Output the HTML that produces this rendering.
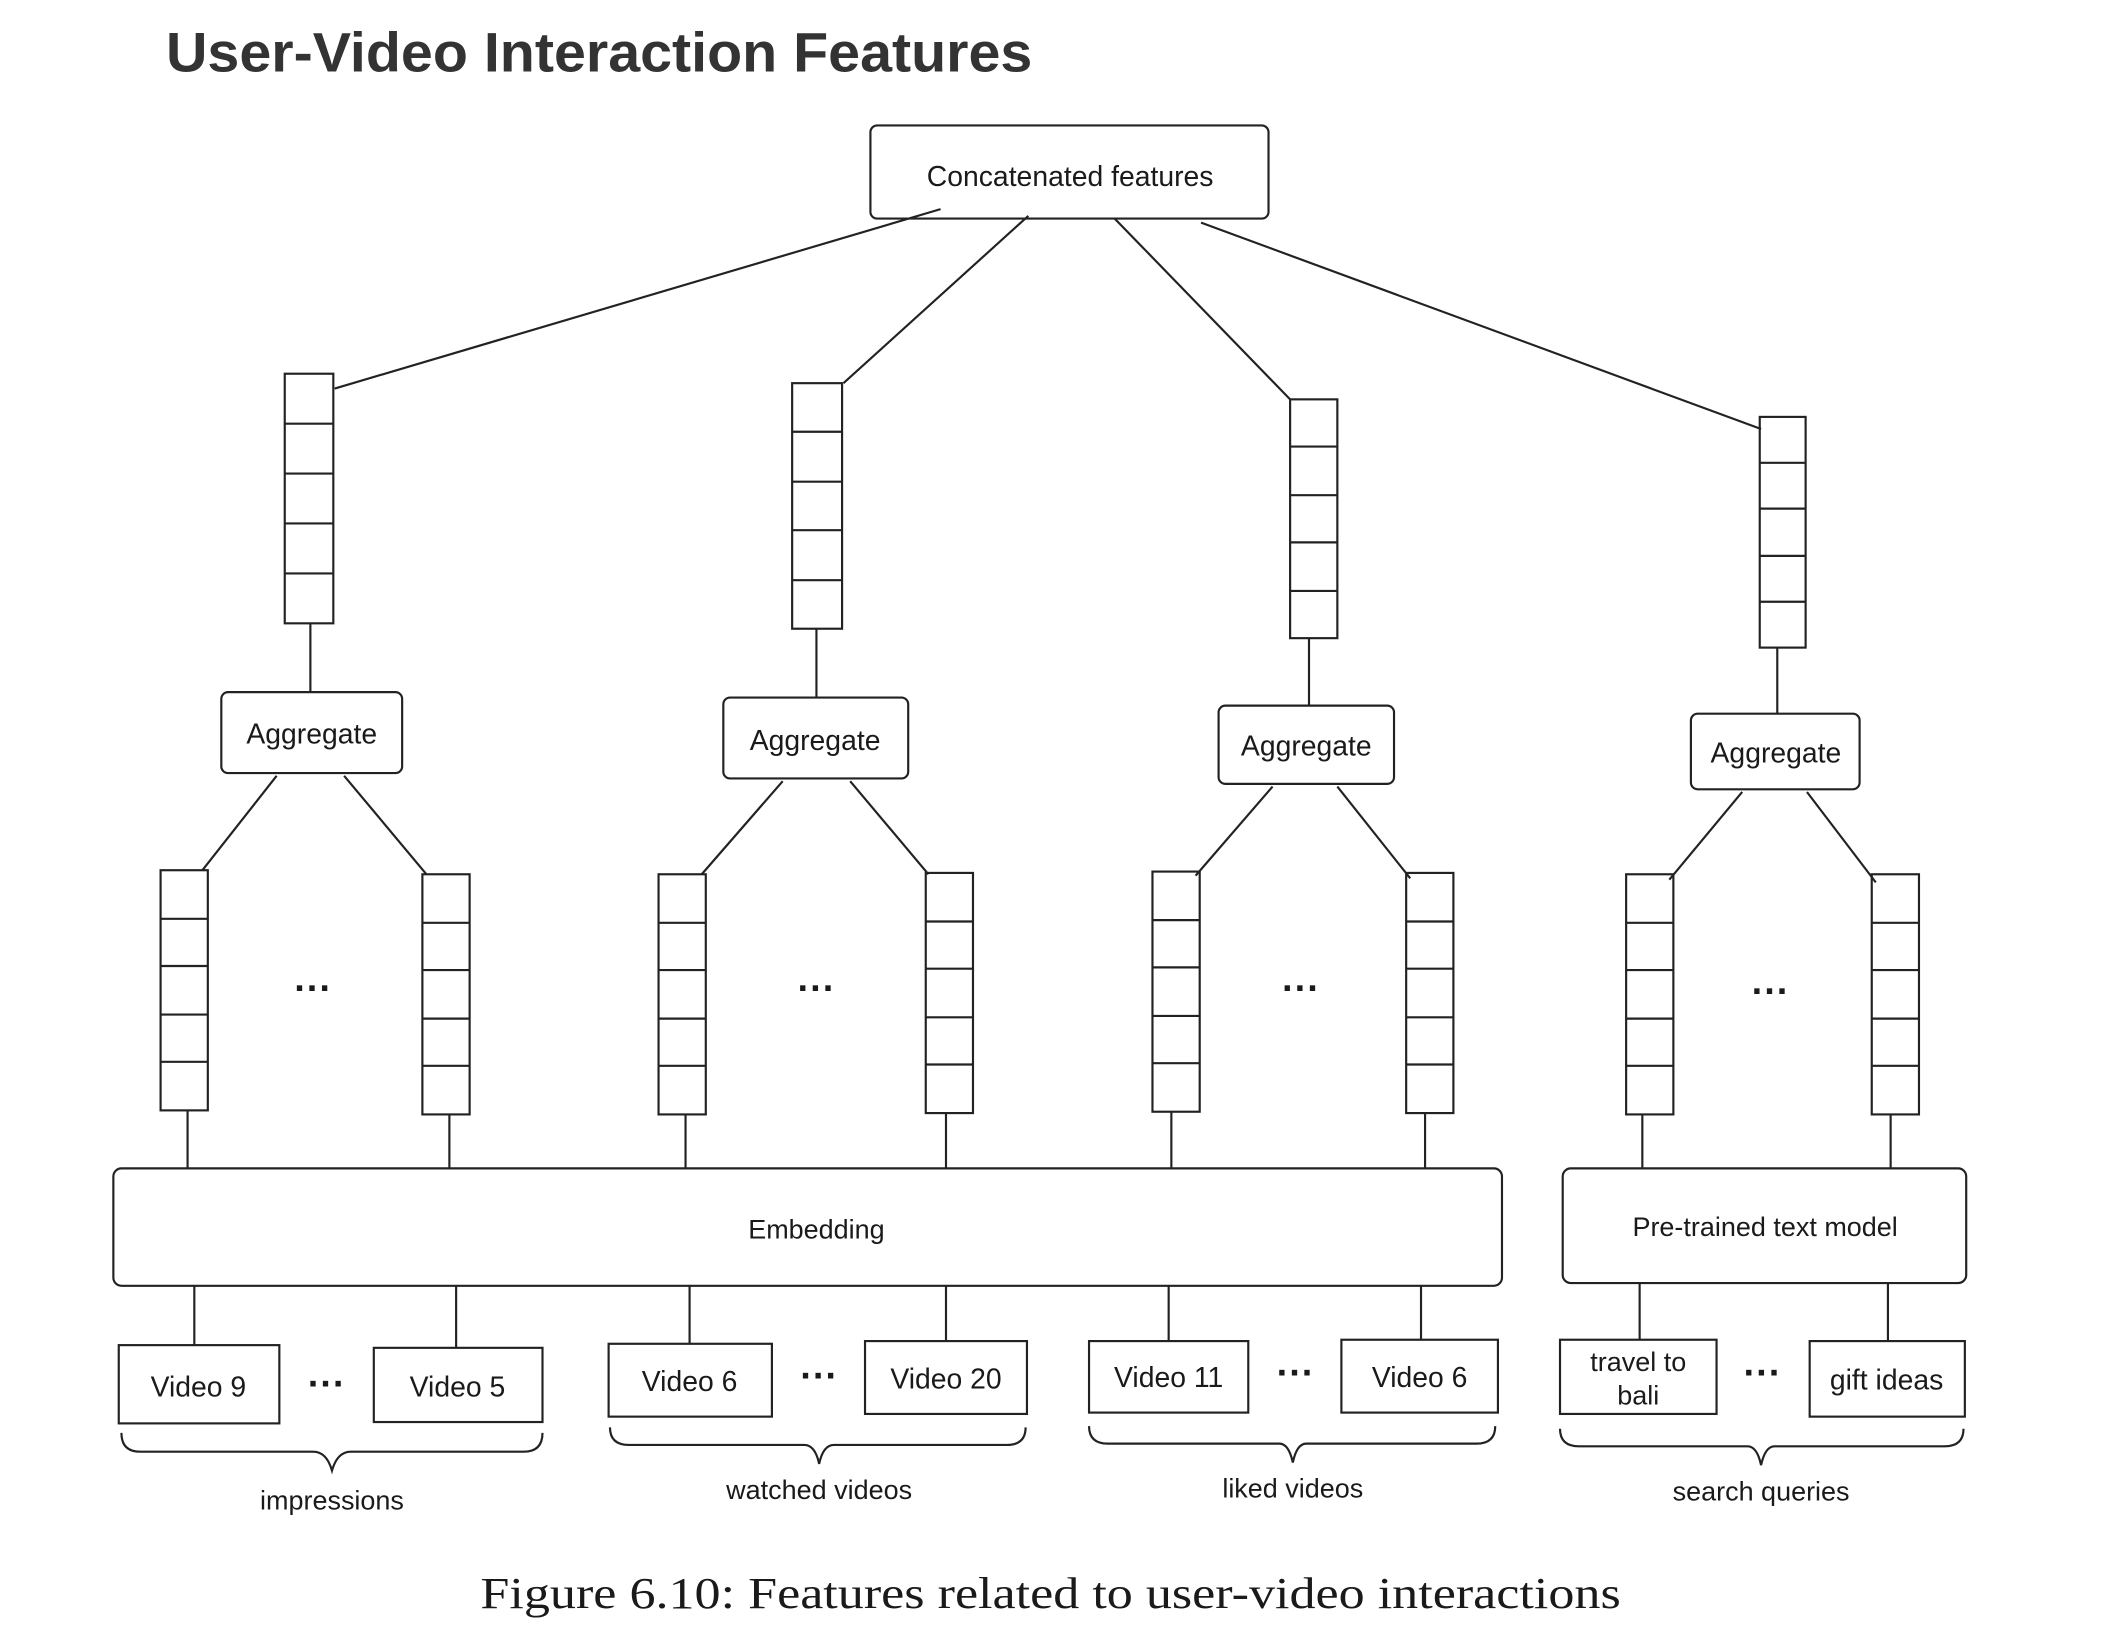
<!DOCTYPE html>
<html><head><meta charset="utf-8"><style>
html,body{margin:0;padding:0;background:#fff;}
svg{display:block}
text{font-family:"Liberation Sans",sans-serif;fill:#1a1a1a}
</style></head><body>
<svg width="2116" height="1646" viewBox="0 0 1568 1220" preserveAspectRatio="none" xmlns="http://www.w3.org/2000/svg">
<text x="123" y="53" font-size="41" font-weight="bold" textLength="642" lengthAdjust="spacingAndGlyphs" style="fill:#333">User-Video Interaction Features</text>
<g stroke="#222" stroke-width="1.6" fill="none">
<rect x="645" y="93" width="295" height="69" rx="5"/>
<line x1="697" y1="155" x2="248" y2="288"/>
<line x1="762" y1="160" x2="625" y2="284"/>
<line x1="826" y1="162" x2="956" y2="296"/>
<line x1="890" y1="165" x2="1305" y2="318"/>
<rect x="211" y="277" width="36" height="185"/>
<line x1="211" y1="314" x2="247" y2="314"/><line x1="211" y1="351" x2="247" y2="351"/><line x1="211" y1="388" x2="247" y2="388"/><line x1="211" y1="425" x2="247" y2="425"/>
<rect x="587" y="284" width="37" height="182"/>
<line x1="587" y1="320" x2="624" y2="320"/><line x1="587" y1="357" x2="624" y2="357"/><line x1="587" y1="393" x2="624" y2="393"/><line x1="587" y1="430" x2="624" y2="430"/>
<rect x="956" y="296" width="35" height="177"/>
<line x1="956" y1="331" x2="991" y2="331"/><line x1="956" y1="367" x2="991" y2="367"/><line x1="956" y1="402" x2="991" y2="402"/><line x1="956" y1="438" x2="991" y2="438"/>
<rect x="1304" y="309" width="34" height="171"/>
<line x1="1304" y1="343" x2="1338" y2="343"/><line x1="1304" y1="377" x2="1338" y2="377"/><line x1="1304" y1="412" x2="1338" y2="412"/><line x1="1304" y1="446" x2="1338" y2="446"/>
<line x1="230" y1="462" x2="230" y2="513"/><line x1="605" y1="466" x2="605" y2="517"/><line x1="970" y1="473" x2="970" y2="523"/><line x1="1317" y1="480" x2="1317" y2="529"/>
<rect x="164" y="513" width="134" height="60" rx="5"/>
<rect x="536" y="517" width="137" height="60" rx="5"/>
<rect x="903" y="523" width="130" height="58" rx="5"/>
<rect x="1253" y="529" width="125" height="56" rx="5"/>
<line x1="205" y1="575" x2="150" y2="645"/><line x1="255" y1="575" x2="316" y2="648"/>
<line x1="580" y1="579" x2="520" y2="648"/><line x1="630" y1="579" x2="688" y2="648"/>
<line x1="943" y1="583" x2="886" y2="649"/><line x1="991" y1="583" x2="1045" y2="651"/>
<line x1="1291" y1="587" x2="1237" y2="652"/><line x1="1339" y1="587" x2="1390" y2="654"/>
<g id="sv">
<rect x="119" y="645" width="35" height="178"/>
<line x1="119" y1="681" x2="154" y2="681"/><line x1="119" y1="716" x2="154" y2="716"/><line x1="119" y1="752" x2="154" y2="752"/><line x1="119" y1="787" x2="154" y2="787"/>
</g>
<use href="#sv" x="194" y="3"/>
<use href="#sv" x="369" y="3"/>
<use href="#sv" x="567" y="2"/>
<use href="#sv" x="735" y="1"/>
<use href="#sv" x="923" y="2"/>
<use href="#sv" x="1086" y="3"/>
<use href="#sv" x="1268" y="3"/>
<line x1="139" y1="823" x2="139" y2="866"/><line x1="333" y1="826" x2="333" y2="866"/><line x1="508" y1="826" x2="508" y2="866"/><line x1="701" y1="825" x2="701" y2="866"/><line x1="868" y1="824" x2="868" y2="866"/><line x1="1056" y1="825" x2="1056" y2="866"/><line x1="1217" y1="826" x2="1217" y2="866"/><line x1="1401" y1="826" x2="1401" y2="866"/>
<rect x="84" y="866" width="1029" height="87" rx="6"/>
<rect x="1158" y="866" width="299" height="85" rx="6"/>
<line x1="144" y1="953" x2="144" y2="997"/><line x1="338" y1="953" x2="338" y2="999"/><line x1="511" y1="953" x2="511" y2="996"/><line x1="701" y1="953" x2="701" y2="994"/><line x1="866" y1="953" x2="866" y2="994"/><line x1="1053" y1="953" x2="1053" y2="993"/><line x1="1215" y1="951" x2="1215" y2="993"/><line x1="1399" y1="951" x2="1399" y2="994"/>
<rect x="88" y="997" width="119" height="58"/>
<rect x="277" y="999" width="125" height="55"/>
<rect x="451" y="996" width="121" height="54"/>
<rect x="641" y="994" width="120" height="54"/>
<rect x="807" y="994" width="118" height="53"/>
<rect x="994" y="993" width="116" height="54"/>
<rect x="1156" y="993" width="116" height="55"/>
<rect x="1341" y="994" width="115" height="56"/>
<path d="M90 1062 Q90 1076 104 1076 L232 1076 Q242 1076 246 1090 Q250 1076 260 1076 L388 1076 Q402 1076 402 1062"/>
<path d="M452 1058 Q452 1071 466 1071 L596 1071 Q604 1071 607 1085 Q610 1071 618 1071 L746 1071 Q760 1071 760 1058"/>
<path d="M807 1057 Q807 1070 821 1070 L948 1070 Q955 1070 958 1084 Q961 1070 968 1070 L1094 1070 Q1108 1070 1108 1057"/>
<path d="M1156 1059 Q1156 1072 1170 1072 L1295 1072 Q1302 1072 1305 1086 Q1308 1072 1315 1072 L1441 1072 Q1455 1072 1455 1059"/>
</g>
<g font-size="21" text-anchor="middle">
<text x="793" y="138">Concatenated features</text>
<text x="231" y="551">Aggregate</text>
<text x="604" y="556">Aggregate</text>
<text x="968" y="560">Aggregate</text>
<text x="1316" y="565">Aggregate</text>
<text x="605" y="918" font-size="20">Embedding</text>
<text x="1308" y="916" font-size="20">Pre-trained text model</text>
<text x="147" y="1035">Video 9</text>
<text x="339" y="1035">Video 5</text>
<text x="511" y="1031">Video 6</text>
<text x="701" y="1029">Video 20</text>
<text x="866" y="1028">Video 11</text>
<text x="1052" y="1028">Video 6</text>
<text x="1214" y="1016" font-size="20">travel to</text>
<text x="1214" y="1041" font-size="20">bali</text>
<text x="1398" y="1030">gift ideas</text>
<text x="246" y="1119" font-size="20">impressions</text>
<text x="607" y="1111" font-size="20">watched videos</text>
<text x="958" y="1110" font-size="20">liked videos</text>
<text x="1305" y="1112" font-size="20">search queries</text>
<g font-size="28" font-weight="bold">
<text x="232" y="742">···</text>
<text x="605" y="742">···</text>
<text x="964" y="742">···</text>
<text x="1312" y="744">···</text>
<text x="242" y="1035">···</text>
<text x="607" y="1029">···</text>
<text x="960" y="1027">···</text>
<text x="1306" y="1027">···</text>
</g>
</g>
<text x="356" y="1192" font-size="33" textLength="845" lengthAdjust="spacingAndGlyphs" style="font-family:'Liberation Serif',serif">Figure 6.10: Features related to user-video interactions</text>
</svg>
</body></html>
